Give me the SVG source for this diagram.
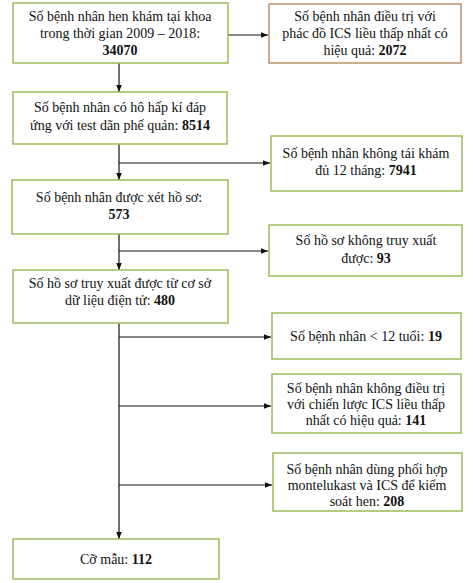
<svg xmlns="http://www.w3.org/2000/svg" width="473" height="583" viewBox="0 0 473 583">
<style>
.box{fill:#fff;stroke:#9bbb59;stroke-width:1.5}
.box2{fill:#fff;stroke:#c0906a;stroke-width:1.5}
text{font-size:14px;fill:#111;text-anchor:middle}
.b{font-weight:bold}
.ln{stroke:#111;stroke-width:1.2;fill:none}
</style>
<defs>
<marker id="ah" viewBox="0 0 10 10" refX="10" refY="5" markerWidth="7" markerHeight="7" orient="auto" markerUnits="userSpaceOnUse">
<path d="M0,1 L10,5 L0,9 z" fill="#111"/>
</marker>
</defs>
<rect width="473" height="583" fill="#fff"/>
<g id="connectors">
<line class="ln" x1="228" y1="35" x2="268" y2="35" marker-end="url(#ah)"/>
<line class="ln" x1="119" y1="63" x2="119" y2="92" marker-end="url(#ah)"/>
<line class="ln" x1="119" y1="144" x2="119" y2="180" marker-end="url(#ah)"/>
<line class="ln" x1="119" y1="163" x2="270" y2="163" marker-end="url(#ah)"/>
<line class="ln" x1="119" y1="234" x2="119" y2="270" marker-end="url(#ah)"/>
<line class="ln" x1="119" y1="251" x2="268" y2="251" marker-end="url(#ah)"/>
<line class="ln" x1="119" y1="323" x2="119" y2="539" marker-end="url(#ah)"/>
<line class="ln" x1="119" y1="337" x2="271" y2="337" marker-end="url(#ah)"/>
<line class="ln" x1="119" y1="406" x2="271" y2="406" marker-end="url(#ah)"/>
<line class="ln" x1="119" y1="485" x2="272" y2="485" marker-end="url(#ah)"/>
</g>
<g font-family="Liberation Serif, Times New Roman, serif">
<g id="n1">
<rect class="box" x="13" y="3" width="215" height="60"/>
<text x="120" y="21">Số bệnh nhân hen khám tại khoa</text>
<text x="120" y="38">trong thời gian 2009 – 2018:</text>
<text x="120" y="55" class="b">34070</text>
</g>
<g id="n2">
<rect class="box2" x="269" y="4" width="192" height="59"/>
<text x="365" y="21">Số bệnh nhân điều trị với</text>
<text x="365" y="38">phác đồ ICS liều thấp nhất có</text>
<text x="365" y="55">hiệu quả: <tspan class="b">2072</tspan></text>
</g>
<g id="n3">
<rect class="box" x="13" y="92" width="214" height="52"/>
<text x="120" y="112">Số bệnh nhân có hô hấp kí đáp</text>
<text x="120" y="130">ứng với test dãn phế quản: <tspan class="b">8514</tspan></text>
</g>
<g id="n4">
<rect class="box" x="271" y="136" width="191" height="55"/>
<text x="366" y="158">Số bệnh nhân không tái khám</text>
<text x="366" y="175">đủ 12 tháng: <tspan class="b">7941</tspan></text>
</g>
<g id="n5">
<rect class="box" x="12" y="180" width="216" height="54"/>
<text x="119" y="202">Số bệnh nhân được xét hồ sơ:</text>
<text x="119" y="219" class="b">573</text>
</g>
<g id="n6">
<rect class="box" x="269" y="225" width="193" height="51"/>
<text x="366" y="245">Số hồ sơ không truy xuất</text>
<text x="366" y="263">được: <tspan class="b">93</tspan></text>
</g>
<g id="n7">
<rect class="box" x="13" y="270" width="215" height="53"/>
<text x="120" y="288">Số hồ sơ truy xuất được từ cơ sở</text>
<text x="120" y="305">dữ liệu điện tử: <tspan class="b">480</tspan></text>
</g>
<g id="n8">
<rect class="box" x="272" y="313" width="189" height="46"/>
<text x="366" y="341">Số bệnh nhân &lt; 12 tuổi: <tspan class="b">19</tspan></text>
</g>
<g id="n9">
<rect class="box" x="272" y="374" width="189" height="59"/>
<text x="366" y="393">Số bệnh nhân không điều trị</text>
<text x="366" y="409">với chiến lược ICS liều thấp</text>
<text x="366" y="425">nhất có hiệu quả: <tspan class="b">141</tspan></text>
</g>
<g id="n10">
<rect class="box" x="273" y="453" width="189" height="58"/>
<text x="367" y="474">Số bệnh nhân dùng phối hợp</text>
<text x="367" y="490">montelukast và ICS để kiểm</text>
<text x="367" y="506">soát hen: <tspan class="b">208</tspan></text>
</g>
<g id="n11">
<rect class="box" x="13" y="539" width="206" height="40"/>
<text x="116" y="564">Cỡ mẫu: <tspan class="b">112</tspan></text>
</g>
</g>
</svg>
